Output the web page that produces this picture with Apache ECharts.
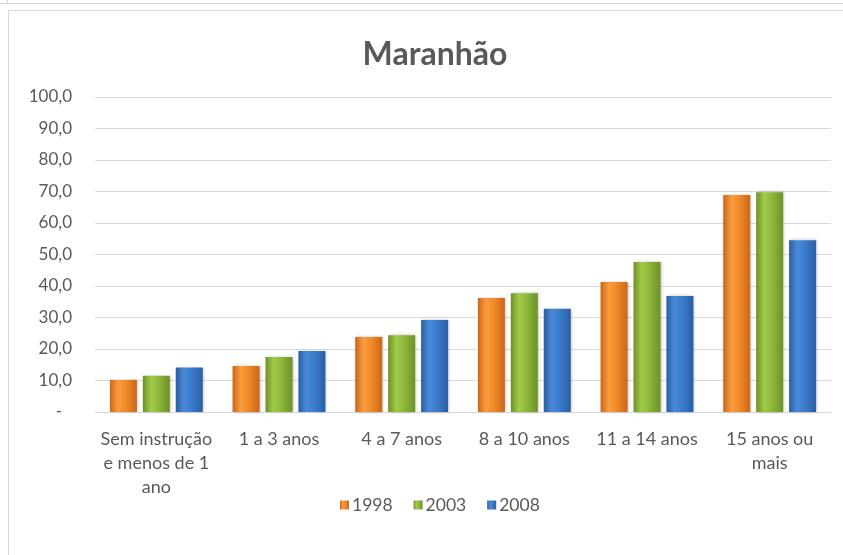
<!DOCTYPE html>
<html>
<head>
<meta charset="utf-8">
<script src="https://cdn.jsdelivr.net/npm/echarts@6/dist/echarts.min.js"></script>
<style>
html, body { margin: 0; padding: 0; background: #fff; }
#main { width: 843px; height: 555px; }
</style>
</head>
<body>
<div id="main"></div>
<script>
var myChart = echarts.init(document.getElementById('main'));

var categorias = ['Sem instrução\ne menos de 1\nano', '1 a 3 anos', '4 a 7 anos', '8 a 10 anos', '11 a 14 anos', '15 anos ou\nmais'];
var anos = ['1998', '2003', '2008'];
var v1998 = [10.2, 14.6, 23.8, 36.2, 41.3, 68.9];
var v2003 = [11.5, 17.5, 24.4, 37.7, 47.6, 69.8];
var v2008 = [14.1, 19.4, 29.2, 32.8, 36.8, 54.5];

var fonte = 'Lato, "Open Sans", sans-serif';
var cinza = '#595959';

// gradiente horizontal para dar o efeito de barra arredondada
function grad(borda, meio, claro) {
	return new echarts.graphic.LinearGradient(0, 0, 1, 0, [
		{ offset: 0, color: borda },
		{ offset: 0.3, color: claro },
		{ offset: 0.6, color: meio },
		{ offset: 1, color: borda }
	]);
}

var cores = [
	grad('#c9661a', '#f08a28', '#f99d3e'),
	grad('#6d9129', '#8cb63a', '#a2cb47'),
	grad('#2b5ea3', '#3a7bcc', '#4a8ad8')
];
var legendaCores = ['#e07b22', '#86ad37', '#3570bd'];

function serie(nome, dados, i) {
	return {
		name: nome,
		type: 'bar',
		data: dados,
		barWidth: 27,
		barGap: '22%',
		itemStyle: {
			color: cores[i],
			shadowColor: 'rgba(0,0,0,0.25)',
			shadowBlur: 3,
			shadowOffsetX: 1
		}
	};
}

var option = {
	backgroundColor: '#fff',
	animation: false,
	color: legendaCores,
	title: {
		text: 'Maranhão',
		left: 430,
		textAlign: 'center',
		top: 34,
		textStyle: { fontFamily: fonte, fontSize: 32, fontWeight: 'bold', color: cinza }
	},
	legend: {
		data: anos,
		left: 335,
		top: 491,
		itemWidth: 9,
		itemHeight: 9,
		itemGap: 21,
		icon: 'rect',
		textStyle: { fontFamily: fonte, fontSize: 17.5, color: cinza, padding: [0, 0, 0, -2] }
	},
	grid: {
		left: 95,
		right: 12,
		top: 97,
		bottom: 143
	},
	xAxis: {
		type: 'category',
		data: categorias,
		axisLine: { lineStyle: { color: '#d9d9d9', width: 1 } },
		axisTick: { show: false },
		axisLabel: {
			fontFamily: fonte, fontSize: 18, color: cinza,
			lineHeight: 24, margin: 15, interval: 0
		}
	},
	yAxis: {
		type: 'value',
		min: 0,
		max: 100,
		interval: 10,
		axisLine: { show: false },
		axisTick: { show: false },
		splitLine: { lineStyle: { color: '#d9d9d9', width: 1 } },
		axisLabel: {
			fontFamily: fonte, fontSize: 17, color: cinza, margin: 23,
			formatter: function (v) {
				return v === 0 ? '{d|-}' : v.toFixed(1).replace('.', ',');
			},
			rich: {
				d: { fontFamily: fonte, fontSize: 17, color: cinza, padding: [0, 10, 0, 0] }
			}
		}
	},
	graphic: [
		{ type: 'line', shape: { x1: 0, y1: 3.5, x2: 843, y2: 3.5 }, style: { stroke: '#d9d9d9', lineWidth: 1 } },
		{ type: 'line', shape: { x1: 7.5, y1: 0, x2: 7.5, y2: 3.5 }, style: { stroke: '#d9d9d9', lineWidth: 1 } },
		{ type: 'rect', shape: { x: 8.5, y: 10.5, width: 900, height: 600 }, style: { fill: null, stroke: '#d9d9d9', lineWidth: 1 } }
	],
	series: [
		serie('1998', v1998, 0),
		serie('2003', v2003, 1),
		serie('2008', v2008, 2)
	]
};

myChart.setOption(option);
</script>
</body>
</html>
